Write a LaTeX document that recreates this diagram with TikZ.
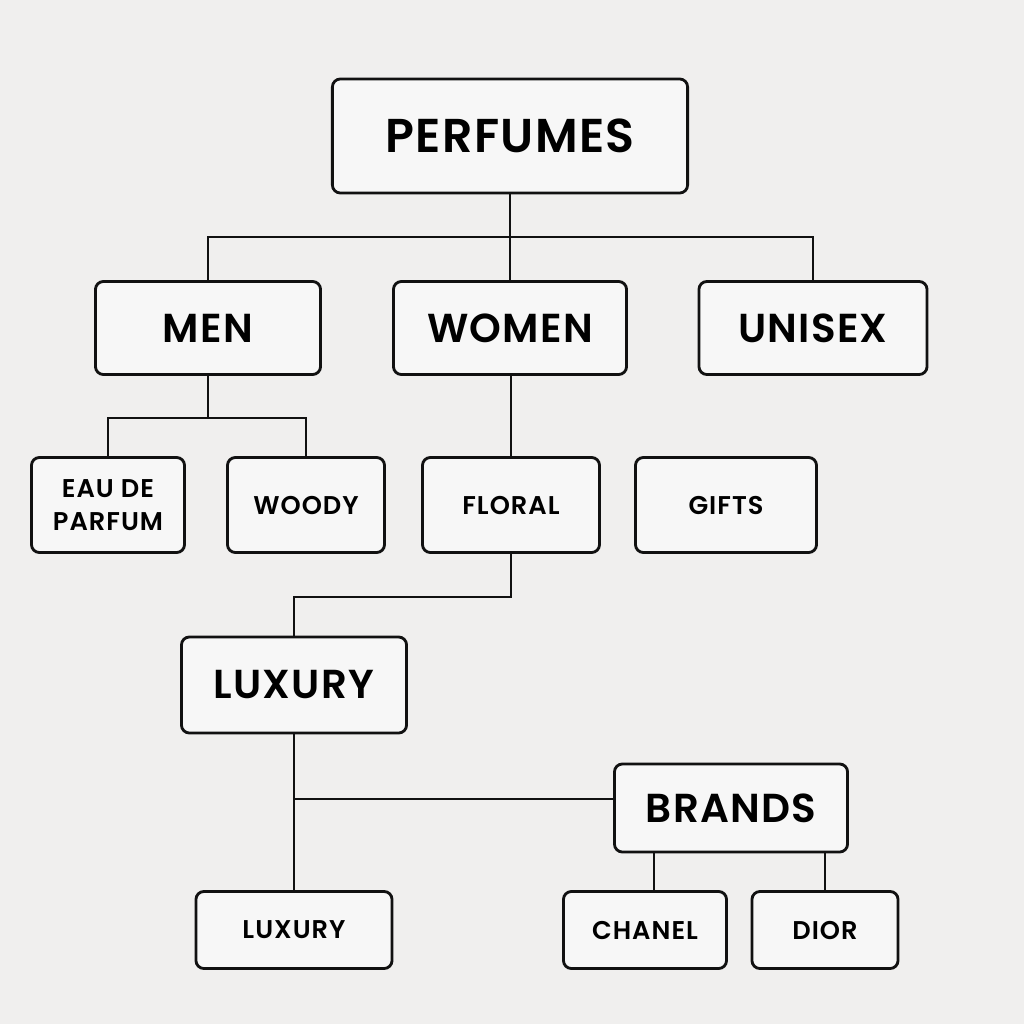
\documentclass[tikz,border=0pt]{standalone}
\usepackage{fontspec}
\setmainfont{Poppins}[BoldFont={Poppins SemiBold}]
\newfontfamily\labelfont{Poppins SemiBold}[LetterSpace=3]
\newfontfamily\smalllabelfont{Poppins SemiBold}[LetterSpace=4]
\usepackage{tikz}
\usetikzlibrary{positioning}
\definecolor{pagebg}{HTML}{F0EFEE}
\definecolor{boxbg}{HTML}{F7F7F7}
\definecolor{ink}{HTML}{111111}

\begin{document}
\begin{tikzpicture}[x=0.01cm, y=-0.01cm,
    catbox/.style={draw=ink, fill=boxbg, line width=0.8pt, rounded corners=0.08cm,
        align=center, inner sep=0pt},
    bigbox/.style={catbox, minimum width=2.27cm, minimum height=0.93cm,
        font=\labelfont\fontsize{11.5}{13}\selectfont},
    smallbox/.style={catbox, minimum height=0.95cm,
        font=\smalllabelfont\fontsize{7.3}{9.6}\selectfont},
    link/.style={draw=ink, line width=0.6pt}]

            \fill[pagebg] (0,0) rectangle (1024,1024);
            \useasboundingbox (0,0) rectangle (1024,1024);

            % Nodes

            \node[catbox, minimum width=3.55cm, minimum height=1.14cm,
                font=\labelfont\fontsize{13.5}{15}\selectfont] (perf) at (510,136) {PERFUMES};
            \node[bigbox, minimum width=2.25cm] (men) at (208,328) {MEN};
            \node[bigbox, minimum width=2.33cm] (women) at (510,328) {WOMEN};
            \node[bigbox, minimum width=2.28cm] (unisex) at (813,328) {UNISEX};
            \node[smallbox, minimum width=1.53cm] (eau) at (108,505) {EAU DE\\PARFUM};
            \node[smallbox, minimum width=1.57cm] (woody) at (306,505) {WOODY};
            \node[smallbox, minimum width=1.77cm] (floral) at (511,505) {FLORAL};
            \node[smallbox, minimum width=1.81cm] (gifts) at (726,505) {GIFTS};
            \node[bigbox, minimum width=2.25cm, minimum height=0.96cm] (lux) at (294,685) {LUXURY};
            \node[bigbox, minimum width=2.33cm, minimum height=0.88cm] (brands) at (731,808) {BRANDS};
            \node[smallbox, minimum width=1.96cm, minimum height=0.77cm] (luxs) at (294,930) {LUXURY};
            \node[smallbox, minimum width=1.63cm, minimum height=0.77cm] (chanel) at (645,930) {CHANEL};
            \node[smallbox, minimum width=1.46cm, minimum height=0.77cm] (dior) at (825,930) {DIOR};

            % Edges

            \coordinate (top) at (510,237);
            \coordinate (menfork) at (208,418);
            \coordinate (florfork) at (511,597);
            \coordinate (luxfork) at (294,799);

            \draw[link] (perf) -- (top);
            \draw[link] (men.north) |- (top) -| (unisex.north);
            \draw[link] (top) -- (women);
            \draw[link] (men) -- (menfork);
            \draw[link] (eau.north) |- (menfork) -| (woody.north);
            \draw[link] (women.south -| floral.north) -- (floral);
            \draw[link] (floral.south) -- (florfork) -| (lux.north);
            \draw[link] (lux) -- (luxs);
            \draw[link] (luxfork) -- (luxfork -| brands.west);
            \draw[link] ([xshift=2.6pt]brands.south -| chanel.north) -- ([xshift=2.6pt]chanel.north);
            \draw[link] (brands.south -| dior.north) -- (dior.north);

\end{tikzpicture}
\end{document}
